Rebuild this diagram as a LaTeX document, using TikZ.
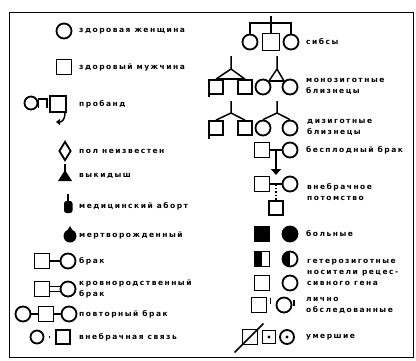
\documentclass[tikz,border=0pt]{standalone}
\usepackage{fontspec}
\setmainfont{DejaVu Sans}
\newfontfamily\legendfont[LetterSpace=20]{DejaVu Sans}
\usetikzlibrary{arrows.meta, positioning, shapes.geometric}

\begin{document}
\begin{tikzpicture}[x=1pt, y=-1pt,
    fem/.style={draw, circle, line width=1.8pt, minimum size=15pt, inner sep=0pt},
    mal/.style={draw, rectangle, line width=1.8pt, minimum size=15pt, inner sep=0pt},
    sick/.style={fill=black},
    carrier/.style={path picture={\fill (path picture bounding box.north west)
      rectangle (path picture bounding box.south);}},
    dead/.style={path picture={\fill (path picture bounding box.center) circle (1.6pt);}},
    link/.style={line width=1.5pt},
    legend/.style={anchor=west, inner sep=0pt, align=left,
      font=\legendfont\bfseries\fontsize{7.5}{11}\selectfont},
    >={Triangle[length=6pt, width=10pt]}
  ]
  \useasboundingbox (0,0) rectangle (416,360);
  \draw[line width=1pt] (9,12) rectangle (413,357);
  \draw[line width=1.5pt] (209,86) -- (209,97);
  \draw[line width=1.5pt] (209,128) -- (209,139);

  % left column
  \node[fem] (woman) at (64,31) {};
  \node[legend] (twoman) at (79,31) {здоровая женщина};
  \node[mal] (man) at (64,67) {};
  \node[legend] (tman) at (79,67) {здоровый мужчина};

  \node[fem, minimum size=13pt] (prwoman) at (31,103) {};
  \node[mal, minimum size=16pt] (prman) at (58,104) {};
  \coordinate (prarch) at (47,108);
  \coordinate (prtip) at (56,122);
  \draw[link] (prwoman.east) ++(0,5) -- ++(0,-9) -| (prarch);
  \draw[link, -{Triangle[length=4pt, width=6pt]}] (prman.south east) ++(-2,0)
    .. controls +(0,8) and +(5,0) .. (prtip);
  \node[legend] (tproband) at (79,104) {пробанд};

  \node[draw, diamond, line width=1.8pt, minimum width=12pt, minimum height=19pt,
    inner sep=0pt] (unknown) at (65,151) {};
  \node[legend] (tunknown) at (79,151) {пол неизвестен};

  \fill (58,181) -- (65,170) -- (72,181) -- cycle;
  \draw[link] (65,172) -- (65,164);
  \node[legend] (tmiscarriage) at (79,176) {выкидыш};

  \fill[rounded corners=2.5pt] (64,201) rectangle (72.5,213);
  \draw[line width=2pt] (68,194) -- (68,204);
  \node[legend] (tabortion) at (79,206) {медицинский аборт};

  \fill (70,236) circle (6.5pt);
  \fill (67,231) -- (70,226) -- (73,231) -- cycle;
  \node[legend] (tstillborn) at (79,235) {мертворожденный};

  \node[mal] (brman) at (42,261) {};
  \node[fem] (brwoman) at (68,261) {};
  \draw[link] (brman) -- (brwoman);
  \node[legend] (tmarriage) at (79,261) {брак};

  \node[mal] (krman) at (42,289) {};
  \node[fem] (krwoman) at (68,289) {};
  \draw[link] ([yshift=2.5pt]krman.east) -- ([yshift=2.5pt]krwoman.west);
  \draw[link] ([yshift=-2.5pt]krman.east) -- ([yshift=-2.5pt]krwoman.west);
  \node[legend] (tkin) at (79,289) {кровнородственный\\брак};

  \node[fem] (rpwoman1) at (23,314) {};
  \node[mal] (rpman) at (46,314) {};
  \node[fem] (rpwoman2) at (69,314) {};
  \draw[link] (rpwoman1) -- (rpman) -- (rpwoman2);
  \node[legend] (trepeat) at (79,314) {повторный брак};

  \node[fem, minimum size=13pt] (exwoman) at (37,337) {};
  \node[mal, minimum size=14pt] (exman) at (63,337) {};
  \draw[link, shorten <=5pt, shorten >=5pt] (exwoman) -- (exman);
  \node[legend] (textra) at (79,337) {внебрачная связь};

  % right column
  \node[fem] (sib1) at (250,42) {};
  \node[mal, minimum size=17pt] (sib2) at (271,42) {};
  \node[fem] (sib3) at (291,42) {};
  \coordinate (sibbar) at (271,23);
  \coordinate (sibtop) at (271,16);
  \draw[link] (sib1.north) -- (sib1.north |- sibbar) -- (sib3.north |- sibbar) -- (sib3.north);
  \draw[link] (sibtop) -- (sib2.north);
  \node[legend] (tsibs) at (306,42) {сибсы};

  \node[mal, minimum size=14pt] (mzman1) at (216,87) {};
  \node[mal, minimum size=14pt] (mzman2) at (245,87) {};
  \coordinate (mzapex1) at (231,69);
  \coordinate (mztop1) at (231,56);
  \draw[link] (mztop1) -- (mzapex1) -- (mzman1.north);
  \draw[link] (mzapex1) -- (mzman2.north);
  \draw[link] (mzman1.north) -- (mzman2.north);
  \node[fem] (mzwoman1) at (263,87) {};
  \node[fem] (mzwoman2) at (290,87) {};
  \coordinate (mzapex2) at (277,69);
  \coordinate (mztop2) at (277,56);
  \draw[link] (mztop2) -- (mzapex2) -- (mzwoman1.north east);
  \draw[link] (mzapex2) -- (mzwoman2.north west);
  \draw[link] (mzwoman1.north east) -- (mzwoman2.north west);
  \node[legend] (tmono) at (306,86) {монозиготные\\близнецы};

  \node[mal, minimum size=14pt] (dzman1) at (216,128) {};
  \node[mal, minimum size=14pt] (dzman2) at (245,128) {};
  \coordinate (dzapex1) at (231,113);
  \coordinate (dztop1) at (231,101);
  \draw[link] (dztop1) -- (dzapex1) -- (dzman1.north);
  \draw[link] (dzapex1) -- (dzman2.north);
  \node[fem] (dzwoman1) at (263,128) {};
  \node[fem] (dzwoman2) at (290,128) {};
  \coordinate (dzapex2) at (277,113);
  \coordinate (dztop2) at (277,101);
  \draw[link] (dztop2) -- (dzapex2) -- (dzwoman1.north);
  \draw[link] (dzapex2) -- (dzwoman2.north);
  \node[legend] (tdi) at (307,127) {дизиготные\\близнецы};

  \node[mal] (ifman) at (262,150) {};
  \node[fem] (ifwoman) at (290,150) {};
  \draw[link] (ifman) -- (ifwoman) coordinate[midway] (ifmid);
  \coordinate (ifend) at (276,175);
  \draw[link, ->] (ifmid) -- (ifend);
  \node[legend] (tinfertile) at (306,150) {бесплодный брак};

  \node[mal] (ilman) at (262,184) {};
  \node[fem] (ilwoman) at (290,184) {};
  \draw[link] (ilman) -- (ilwoman) coordinate[midway] (ilmid);
  \node[mal, minimum size=14pt] (ilchild) at (276,208) {};
  \draw[link, dotted] (ilmid) -- (ilchild.north);
  \node[legend] (tillegit) at (307,192) {внебрачное\\потомство};

  \node[mal, sick] (sickman) at (262,234) {};
  \node[fem, sick] (sickwoman) at (290,234) {};
  \node[legend] (tsick) at (306,234) {больные};

  \node[mal, carrier] (hetman) at (262,259) {};
  \node[fem, carrier] (hetwoman) at (290,259) {};
  \node[mal] (cman) at (262,283) {};
  \node[fem] (cwoman) at (290,283) {};
  \node[legend] (thetero) at (307,272) {гетерозиготные\\носители рецес-\\сивного гена};

  \node[mal] (exman2) at (259,305) {};
  \node[fem] (exwoman2) at (284,305) {};
  \draw[link] (exman2.north east) ++(3,1) -- ++(0,6);
  \draw[link] (exwoman2.north east) ++(4,1) -- ++(0,6);
  \node[legend] (texamined) at (306,305) {лично\\обследованные};

  \node[mal] (deadman1) at (250,337) {};
  \draw[link] (deadman1.south west) ++(-7,7) -- ([shift={(5,-5)}]deadman1.north east);
  \node[mal, dead, minimum size=13pt] (deadman2) at (269,337) {};
  \node[fem, dead, minimum size=14pt] (deadwoman) at (287,337) {};
  \node[legend] (tdead) at (306,337) {умершие};
\end{tikzpicture}
\end{document}
